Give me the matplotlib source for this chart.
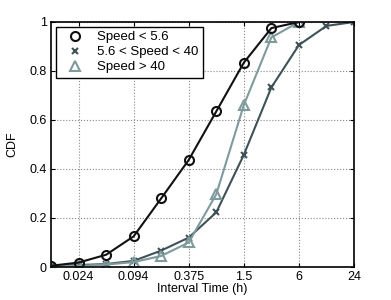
import numpy as np
import matplotlib
matplotlib.use('Agg')
import matplotlib.pyplot as plt

plt.rcParams['font.family'] = ['Liberation Sans', 'DejaVu Sans']

# Intervalos (h): factor 2 entre puntos
t_all = [24/2048, 24/1024, 24/512, 24/256, 24/128, 24/64, 24/32, 24/16, 24/8, 24/4, 24/2, 24]

cdf_low = [0.005, 0.018, 0.05, 0.125, 0.28, 0.437, 0.635, 0.834, 0.975, 1.0]
cdf_mid = [0.005, 0.008, 0.012, 0.025, 0.067, 0.12, 0.223, 0.458, 0.733, 0.906, 0.984, 1.0]
cdf_high = [0.005, 0.005, 0.01, 0.02, 0.045, 0.10, 0.297, 0.661, 0.937, 1.0]

xticks = [0.0234375, 0.09375, 0.375, 1.5, 6, 24]
xticklabels = ['0.024', '0.094', '0.375', '1.5', '6', '24']
yticks = [0, 0.2, 0.4, 0.6, 0.8, 1]
yticklabels = ['0', '0.2', '0.4', '0.6', '0.8', '1']

c_low = '#111111'
c_mid = '#3f5257'
c_high = '#7f9a9d'

fig = plt.figure(figsize=(3.91, 3.0), dpi=100)
ax = fig.add_axes([0.1304, 0.11, 0.775, 0.8167])

ax.plot(t_all[:len(cdf_low)], cdf_low, '-', color=c_low, lw=1.5, marker='o',
        ms=6.5, mfc='none', mew=1.5, label='Speed < 5.6', zorder=3)
ax.plot(t_all[:len(cdf_mid)], cdf_mid, '-', color=c_mid, lw=1.5, marker='x',
        ms=5, mew=1.5, label='5.6 < Speed < 40', zorder=2)
ax.plot(t_all[:len(cdf_high)], cdf_high, '-', color=c_high, lw=1.5, marker='^',
        ms=7, mfc='none', mew=1.5, label='Speed > 40', zorder=2)

ax.set_xscale('log')
ax.set_xlim(24/2048, 24)
ax.set_ylim(0, 1)
ax.set_xticks(xticks)
ax.set_xticklabels(xticklabels)
ax.minorticks_off()
ax.set_yticks(yticks)
ax.set_yticklabels(yticklabels)
ax.tick_params(direction='in', top=True, right=True, labelsize=9, length=3, pad=3)
ax.grid(True, linestyle=':', color='#888888', lw=0.8)
for s in ax.spines.values():
    s.set_linewidth(1.2)

ax.set_xlabel('Interval Time (h)', fontsize=9, labelpad=0)
ax.set_ylabel('CDF', fontsize=9, labelpad=8)

leg = ax.legend(loc='upper left', fontsize=9.5, fancybox=False, framealpha=1,
                edgecolor='black', borderaxespad=0.35, handlelength=2.2,
                handletextpad=0.6, borderpad=0.35, labelspacing=0.2)
leg.get_frame().set_linewidth(1.0)
for h in leg.get_lines():
    h.set_linestyle('none')

fig.savefig('out.png', dpi=100)
